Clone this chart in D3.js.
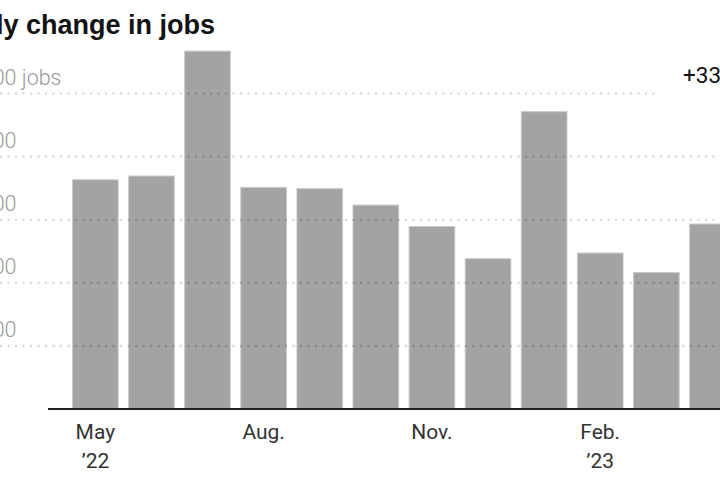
<!DOCTYPE html>
<html>
<head>
<meta charset="utf-8">
<script src="https://cdn.jsdelivr.net/npm/d3@7"></script>
<style>
  html, body { margin: 0; padding: 0; background: #fff; overflow: hidden; }
  svg { display: block; }
</style>
</head>
<body>
<svg id="chart" width="720" height="480"></svg>
<script>
// ---- data (thousands of jobs) ----
const months = ["May 2022","Jun 2022","Jul 2022","Aug 2022","Sep 2022","Oct 2022","Nov 2022","Dec 2022","Jan 2023","Feb 2023","Mar 2023","Apr 2023","May 2023"];
const jobGains = [364, 370, 568, 352, 350, 324, 290, 239, 472, 248, 217, 294, 339];
const yTicks = [100, 200, 300, 400, 500];
const yTickLabels = ["100,000", "200,000", "300,000", "400,000", "500,000 jobs"];
const xTickIndex = [0, 3, 6, 9, 12];
const xTickLine1 = ["May", "Aug.", "Nov.", "Feb.", "May"];
const xTickLine2 = ["\u201922", "", "", "\u201923", ""];
const title = "Monthly change in jobs";
const latestLabel = "+339,000";

const svg = d3.select("#chart");

const x = d3.scaleBand()
  .domain(d3.range(months.length))
  .range([72, 72 + 56.1 * (months.length - 0.168)])
  .paddingInner(0.168)
  .paddingOuter(0);

const y = d3.scaleLinear().domain([0, 500]).range([409, 93.5]);

// bars
svg.append("g").selectAll("rect")
  .data(jobGains)
  .join("rect")
  .attr("x", (d, i) => x(i) + 0.5)
  .attr("width", x.bandwidth() - 1)
  .attr("y", d => y(d) + 0.5)
  .attr("height", d => y(0) - y(d) - 0.5)
  .attr("fill", "#a3a3a3")
  .attr("stroke", "#c9c9c9")
  .attr("stroke-width", 1);

// dotted gridlines (on top of bars)
const grid = svg.append("g");
grid.selectAll("line")
  .data(yTicks)
  .join("line")
  .attr("x1", 1)
  .attr("x2", d => d === 500 ? 657 : 724)
  .attr("y1", d => y(d))
  .attr("y2", d => y(d))
  .attr("stroke", "#000")
  .attr("stroke-opacity", 0.15)
  .attr("stroke-width", 2.6)
  .attr("stroke-linecap", "round")
  .attr("stroke-dasharray", "0 7.5");

// y labels, numbers ending at x=16
const yl = svg.append("g")
  .attr("font-family", "Roboto, 'Liberation Sans', sans-serif")
  .attr("font-weight", 300)
  .attr("font-size", 21.5)
  .attr("fill", "#999");
yTicks.forEach((t, i) => {
  const txt = yl.append("text")
    .attr("y", y(t) - 9)
    .text(yTickLabels[i]);
  const numLen = yTickLabels[i].split(" ")[0].length;
  const w = txt.node().getSubStringLength(0, numLen);
  txt.attr("x", 16.5 - w);
});

// baseline axis
svg.append("line")
  .attr("x1", 48).attr("x2", 724)
  .attr("y1", y(0)).attr("y2", y(0))
  .attr("stroke", "#222")
  .attr("stroke-width", 2);

// x tick labels
const xl = svg.append("g")
  .attr("font-family", "Roboto, 'Liberation Sans', sans-serif")
  .attr("font-size", 21)
  .attr("fill", "#333")
  .attr("text-anchor", "middle");
xTickIndex.forEach((idx, k) => {
  const cx = x(idx) + x.bandwidth() / 2;
  xl.append("text").attr("x", cx).attr("y", 439).text(xTickLine1[k]);
  if (xTickLine2[k]) xl.append("text").attr("x", cx).attr("y", 468).text(xTickLine2[k]);
});

// title
svg.append("text")
  .attr("x", 215).attr("y", 34)
  .attr("text-anchor", "end")
  .attr("font-family", "'Liberation Sans', Arial, sans-serif")
  .attr("font-weight", 700)
  .attr("font-size", 27)
  .attr("fill", "#121212")
  .text(title);

// latest value label
svg.append("text")
  .attr("x", 683).attr("y", 83)
  .attr("font-family", "Roboto, 'Liberation Sans', sans-serif")
  .attr("font-size", 22.5)
  .attr("fill", "#121212")
  .text(latestLabel);
</script>
</body>
</html>
